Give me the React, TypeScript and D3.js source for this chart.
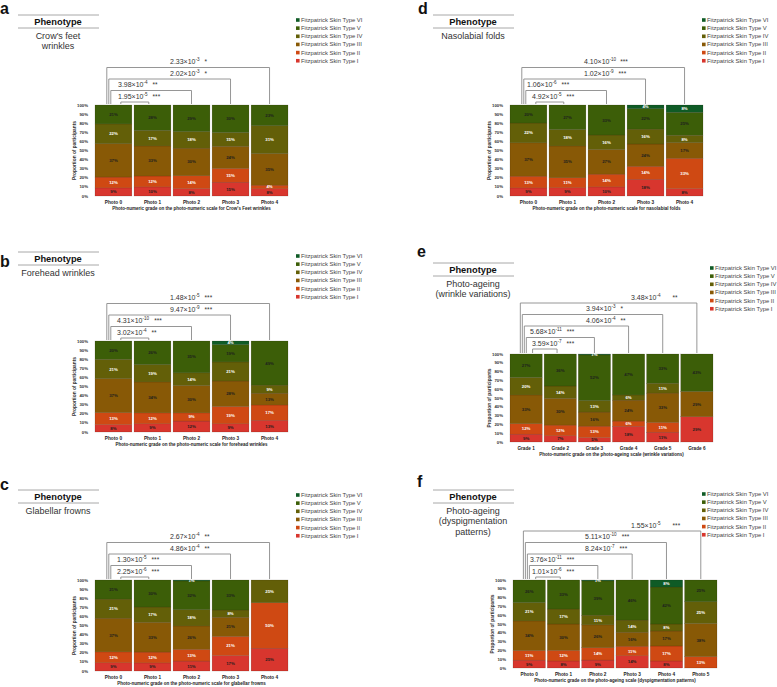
import React from "react";
import * as d3 from "d3";

// ---------- shared data ----------
const SKIN_TYPES = [
  "Fitzpatrick Skin Type I",
  "Fitzpatrick Skin Type II",
  "Fitzpatrick Skin Type III",
  "Fitzpatrick Skin Type IV",
  "Fitzpatrick Skin Type V",
  "Fitzpatrick Skin Type VI",
];
const TYPE_COLORS = ["#d8362e", "#cf4913", "#885906", "#635f08", "#3c5e08", "#0f5b26"];
const LABEL_COLORS = ["#1e1e1e", "#ffffff", "#1e1e1e", "#ffffff", "#1e1e1e", "#ffffff"];
const Y_TICKS = [0, 0.1, 0.2, 0.3, 0.4, 0.5, 0.6, 0.7, 0.8, 0.9, 1];

const PHOTO_5 = ["Photo 0", "Photo 1", "Photo 2", "Photo 3", "Photo 4"];
const GRADE_6 = ["Grade 1", "Grade 2", "Grade 3", "Grade 4", "Grade 5", "Grade 6"];
const PHOTO_6 = ["Photo 0", "Photo 1", "Photo 2", "Photo 3", "Photo 4", "Photo 5"];

// rows per category: [I, II, III, IV, V, VI] (%)
const crowsFeet = [
  [9, 12, 37, 22, 21, 0],
  [10, 12, 33, 17, 28, 0],
  [8, 14, 30, 18, 29, 0],
  [15, 15, 24, 15, 30, 0],
  [8, 4, 35, 31, 23, 0],
];
const forehead = [
  [8, 13, 37, 21, 20, 0],
  [9, 12, 34, 19, 26, 0],
  [12, 9, 30, 14, 35, 0],
  [9, 19, 28, 21, 19, 4],
  [13, 17, 13, 9, 49, 0],
];
const glabellar = [
  [9, 12, 37, 21, 21, 0],
  [9, 12, 33, 17, 30, 0],
  [11, 13, 26, 18, 32, 1],
  [17, 21, 21, 8, 33, 0],
  [25, 50, 0, 25, 0, 0],
];
const nasolabial = [
  [9, 13, 37, 22, 20, 0],
  [9, 11, 35, 18, 27, 0],
  [10, 14, 27, 16, 33, 0],
  [18, 14, 24, 16, 22, 4],
  [8, 33, 17, 8, 25, 8],
];
const wrinkleVar = [
  [9, 12, 33, 20, 27, 0],
  [7, 12, 30, 14, 36, 0],
  [5, 13, 16, 13, 52, 1],
  [18, 6, 24, 6, 47, 0],
  [11, 11, 33, 11, 33, 0],
  [29, 0, 29, 0, 43, 0],
];
const dyspig = [
  [9, 11, 34, 21, 26, 0],
  [8, 12, 30, 17, 33, 0],
  [9, 14, 26, 11, 39, 1],
  [14, 11, 16, 14, 46, 0],
  [8, 17, 17, 8, 42, 8],
  [0, 13, 38, 25, 25, 0],
];

// p-values, outermost comparison first: [mantissa, exponent, stars]
const crowsFeetP = [["2.33", "-3", "*"], ["2.02", "-3", "*"], ["3.98", "-4", "**"], ["1.95", "-5", "***"]];
const foreheadP = [["1.48", "-5", "***"], ["9.47", "-9", "***"], ["4.31", "-10", "***"], ["3.02", "-4", "**"]];
const glabellarP = [["2.67", "-4", "**"], ["4.86", "-4", "**"], ["1.30", "-5", "***"], ["2.25", "-6", "***"]];
const nasolabialP = [["4.10", "-10", "***"], ["1.02", "-9", "***"], ["1.06", "-6", "***"], ["4.92", "-5", "***"]];
const wrinkleVarP = [["3.48", "-4", "**"], ["3.94", "-3", "*"], ["4.06", "-4", "**"], ["5.68", "-11", "***"], ["3.59", "-7", "***"]];
const dyspigP = [["1.55", "-5", "***"], ["5.11", "-10", "***"], ["8.24", "-7", "***"], ["3.76", "-11", "***"], ["1.01", "-6", "***"]];

// ---------- layout ----------
const PANELS = [
  {
    letter: "a", lx: 0, ly: 14, phX: 18, phY: 15, pheno: ["Crow's feet", "wrinkles"],
    legX: 296, legY: 20, plot: { x0: 95, x1: 288, y0: 105, y1: 196 },
    cats: PHOTO_5, rows: crowsFeet, pv: crowsFeetP, labDx: [75, 75, 23, 23], gaps: [5, 5, 5, 5], base: -3,
    xTitle: "Photo-numeric grade on the photo-numeric scale for Crow's Feet wrinkles",
  },
  {
    letter: "b", lx: 0, ly: 267, phX: 18, phY: 252, pheno: ["Forehead wrinkles"],
    legX: 296, legY: 256, plot: { x0: 95, x1: 288, y0: 341, y1: 432 },
    cats: PHOTO_5, rows: forehead, pv: foreheadP, labDx: [75, 75, 22, 22], gaps: [5, 5, 5, 5], base: -3,
    xTitle: "Photo-numeric grade on the photo-numeric scale for forehead wrinkles",
  },
  {
    letter: "c", lx: 0, ly: 490, phX: 18, phY: 490, pheno: ["Glabellar frowns"],
    legX: 296, legY: 495, plot: { x0: 95, x1: 288, y0: 580, y1: 671 },
    cats: PHOTO_5, rows: glabellar, pv: glabellarP, labDx: [75, 75, 22, 22], gaps: [5, 5, 5, 5], base: -3,
    xTitle: "Photo-numeric grade on the photo-numeric scale for glabellar frowns",
  },
  {
    letter: "d", lx: 418, ly: 14, phX: 433, phY: 15, pheno: ["Nasolabial folds"],
    legX: 702, legY: 20, plot: { x0: 510, x1: 703, y0: 105, y1: 196 },
    cats: PHOTO_5, rows: nasolabial, pv: nasolabialP, labDx: [74, 74, 17, 22], gaps: [4, 5, 5, 5], base: -3,
    xTitle: "Photo-numeric grade on the photo-numeric scale for nasolabial folds",
  },
  {
    letter: "e", lx: 417, ly: 257, phX: 433, phY: 263, pheno: ["Photo-ageing", "(wrinkle variations)"],
    legX: 710, legY: 268, plot: { x0: 510, x1: 713, y0: 354, y1: 442 },
    cats: GRADE_6, rows: wrinkleVar, pv: wrinkleVarP, labDx: [121, 76, 76, 20, 22], gaps: [12, 5, 5, 5, 5], base: -5,
    xTitle: "Photo-numeric grade on the photo-ageing scale (wrinkle variations)",
  },
  {
    letter: "f", lx: 417, ly: 487, phX: 433, phY: 490, pheno: ["Photo-ageing", "(dyspigmentation", "patterns)"],
    legX: 702, legY: 494, plot: { x0: 513, x1: 717, y0: 580, y1: 668 },
    cats: PHOTO_6, rows: dyspig, pv: dyspigP, labDx: [118, 72, 72, 17, 19], gaps: [12, 5, 5, 5, 5], base: -3,
    xTitle: "Photo-numeric grade on the photo-ageing scale (dyspigmentation patterns)",
  },
];

function Panel({ p }: { p: any }) {
  const { plot, cats, rows } = p;
  const x = d3.scaleBand<string>().domain(cats).range([plot.x0, plot.x1]).paddingInner(0.055).paddingOuter(0);
  const y = d3.scaleLinear().domain([0, 1]).range([plot.y1, plot.y0]);
  const bw = x.bandwidth();
  const table = rows.map((r: number[], i: number) => {
    const o: any = { cat: cats[i] };
    SKIN_TYPES.forEach((k, j) => (o[k] = r[j]));
    return o;
  });
  const series = d3.stack<any>().keys(SKIN_TYPES).offset(d3.stackOffsetExpand)(table);
  const cx = (i: number) => (x(cats[i]) as number) + bw / 2;
  const yTop = plot.y0;
  const nP = p.pv.length;
  const pctFmt = d3.format(".0%");

  return (
    <g>
      {/* panel letter */}
      <text x={p.lx} y={p.ly} fontSize={16} fontWeight="bold" fill="#111">{p.letter}</text>

      {/* phenotype box */}
      <line x1={p.phX} x2={p.phX + 81} y1={p.phY} y2={p.phY} stroke="#a8a8a8" strokeWidth={1} />
      <text x={p.phX + 40} y={p.phY + 10} fontSize={9.3} fontWeight="bold" textAnchor="middle" fill="#111">Phenotype</text>
      <line x1={p.phX} x2={p.phX + 81} y1={p.phY + 13} y2={p.phY + 13} stroke="#a8a8a8" strokeWidth={1} />
      {p.pheno.map((t: string, i: number) => (
        <text key={i} x={p.phX + 40} y={p.phY + 23.5 + i * 10.5} fontSize={9} textAnchor="middle" fill="#333">{t}</text>
      ))}

      {/* legend */}
      {SKIN_TYPES.slice().reverse().map((t, j) => {
        const k = SKIN_TYPES.length - 1 - j;
        const yy = p.legY + j * 8.15;
        return (
          <g key={t}>
            <rect x={p.legX} y={yy - 1.8} width={3.6} height={3.6} fill={TYPE_COLORS[k]} />
            <text x={p.legX + 5} y={yy + 2} fontSize={5.9} fill="#444">{t}</text>
          </g>
        );
      })}

      {/* bars */}
      {series.map((s: any, k: number) => (
        <g key={k} fill={TYPE_COLORS[k]}>
          {s.map((d: any, i: number) => {
            const h = y(d[0]) - y(d[1]);
            if (h <= 0) return null;
            return (
              <rect key={i} x={x(d.data.cat)} y={y(d[1])} width={bw} height={h}
                stroke="rgba(40,20,0,0.35)" strokeWidth={0.4} />
            );
          })}
        </g>
      ))}
      {series.map((s: any, k: number) => (
        <g key={"l" + k}>
          {s.map((d: any, i: number) => {
            const v = rows[i][k];
            if (!v) return null;
            const my = (y(d[0]) + y(d[1])) / 2;
            return (
              <text key={i} x={cx(i)} y={my + 1.5} fontSize={4.3} fontWeight="bold" textAnchor="middle" fill={LABEL_COLORS[k]}>
                {v + "%"}
              </text>
            );
          })}
        </g>
      ))}

      {/* y axis */}
      {Y_TICKS.map((t) => (
        <text key={t} x={plot.x0 - 7} y={y(t) + 1.5} fontSize={4.3} fontWeight="bold" textAnchor="end" fill="#333">{pctFmt(t)}</text>
      ))}
      <text transform={`translate(${plot.x0 - 19.5},${(plot.y0 + plot.y1) / 2}) rotate(-90)`} fontSize={4.8} fontWeight="bold" textAnchor="middle" fill="#333">
        Proportion of participants
      </text>

      {/* x axis */}
      {cats.map((c: string, i: number) => (
        <text key={c} x={cx(i)} y={plot.y1 + 8} fontSize={4.7} fontWeight="bold" textAnchor="middle" fill="#222">{c}</text>
      ))}
      <text x={(plot.x0 + plot.x1) / 2} y={plot.y1 + 14.3} fontSize={4.5} fontWeight="bold" textAnchor="middle" fill="#222">{p.xTitle}</text>

      {/* significance brackets */}
      {p.pv.map((pv: string[], i: number) => {
        const target = cats.length - 1 - i;
        const top = yTop + p.base - 11.5 * (nP - 1 - i);
        let left: number, right: number;
        if (i < nP - 1) {
          left = (x(cats[0]) as number) + bw * 0.32 + 2 * i;
          right = cx(target);
        } else {
          left = cx(0) + 0.2 * bw;
          right = cx(1) - 0.1 * bw;
        }
        return (
          <g key={i}>
            <path d={`M${left},${yTop - 1}V${top}H${right}V${yTop - 1}`} fill="none" stroke="#8a8a8a" strokeWidth={0.9} />
            <text x={plot.x0 + p.labDx[i]} y={top - 3.5} fontSize={7} fill="#333">
              <tspan>{pv[0] + "×10"}</tspan>
              <tspan dy={-2.6} fontSize={4.6}>{pv[1]}</tspan>
              <tspan dy={2.6} dx={p.gaps[i]} fontSize={6.5}>{pv[2]}</tspan>
            </text>
          </g>
        );
      })}
    </g>
  );
}

export default function App() {
  return (
    <svg
      width={777}
      height={687}
      viewBox="0 0 777 687"
      style={{ position: "absolute", left: 0, top: 0, background: "#fff" }}
      fontFamily="'Liberation Sans', Arial, Helvetica, sans-serif"
    >
      <rect width={777} height={687} fill="#fff" />
      {PANELS.map((p) => (
        <Panel key={p.letter} p={p} />
      ))}
    </svg>
  );
}
